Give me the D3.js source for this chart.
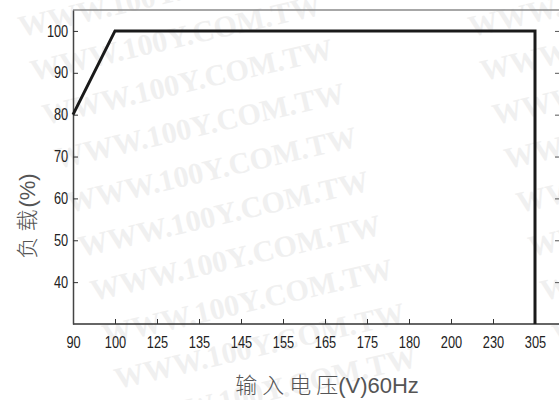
<!DOCTYPE html>
<html>
<head>
<meta charset="utf-8">
<script src="https://cdn.jsdelivr.net/npm/d3@7"></script>
<style>
    body { margin: 0; background: #fff; }
    svg { display: block; }
</style>
</head>
<body>
<div id="derating"></div>
<script>
// input voltage categories (evenly spaced on the axis)
var voltages = ["90", "100", "125", "135", "145", "155", "165", "175", "180", "200", "230", "305"];
// load curve
var curveVoltage = ["90", "100", "305", "305"];
var curveLoad = [80, 100, 100, 30];
var loadTicks = [40, 50, 60, 70, 80, 90, 100];
var watermarkText = "WWW.100Y.COM.TW";

var W = 559, H = 400;
var margin = { top: 10, right: 0, bottom: 76, left: 73 };

var svg = d3.select("#derating")
    .append("svg")
    .attr("width", W)
    .attr("height", H);

// watermark, tiled and tilted
var wm = svg.append("g").attr("class", "watermark");
for (var c = -1; c <= 1; c++) {
    for (var r = -1; r < 9; r++) {
        var wx = 33 + c * 450 + r * 12;
        var wy = 81 + r * 44;
        wm.append("text")
            .attr("transform", "translate(" + wx + "," + wy + ")rotate(-13)")
            .attr("font-family", "Liberation Serif, serif")
            .attr("font-weight", "bold")
            .attr("font-size", 30)
            .attr("fill", "#f0f0f0")
            .text(watermarkText);
    }
}

var x = d3.scalePoint()
    .domain(voltages)
    .range([margin.left, 535]);

var y = d3.scaleLinear()
    .domain([30, 105])
    .range([H - margin.bottom, margin.top]);

var tickFont = "Liberation Sans, Arial, sans-serif";

// frame: top and right edges in light gray
svg.append("line")
    .attr("x1", margin.left).attr("x2", W)
    .attr("y1", y(105)).attr("y2", y(105))
    .attr("stroke", "#8a8a8a").attr("stroke-width", 1.5);

var rightAxis = svg.append("g")
    .attr("transform", "translate(" + (W + 1) + ",0)")
    .call(d3.axisRight(y).tickValues(loadTicks).tickSize(-5).tickFormat(""));
rightAxis.select(".domain").remove();
rightAxis.selectAll("line").attr("stroke", "#555");

// bottom axis
var xAxis = svg.append("g")
    .attr("transform", "translate(0," + y(30) + ")")
    .call(d3.axisBottom(x).tickSize(-5).tickPadding(13).tickSizeOuter(0));
xAxis.select(".domain").remove();
xAxis.selectAll("line").attr("stroke", "#333");
xAxis.selectAll("text")
    .attr("font-family", tickFont)
    .attr("font-size", 16)
    .attr("transform", "scale(0.8,1)")
    .attr("fill", "#222");

svg.append("line")
    .attr("x1", margin.left).attr("x2", W)
    .attr("y1", y(30)).attr("y2", y(30))
    .attr("stroke", "#333").attr("stroke-width", 1.5);

// left axis
var yAxis = svg.append("g")
    .attr("transform", "translate(" + margin.left + ",0)")
    .call(d3.axisLeft(y).tickValues(loadTicks).tickSize(-5).tickPadding(6).tickSizeOuter(0));
yAxis.select(".domain").attr("stroke", "#444").attr("stroke-width", 1.5);
yAxis.selectAll("line").attr("stroke", "#333");
yAxis.selectAll("text")
    .attr("font-family", tickFont)
    .attr("font-size", 16)
    .attr("transform", "scale(0.8,1)")
    .attr("fill", "#222");

// the derating curve
var pts = curveVoltage.map(function(v, i) {
    return [x(v), y(curveLoad[i])];
});
svg.append("path")
    .attr("d", d3.line()(pts))
    .attr("fill", "none")
    .attr("stroke", "#1a1a1a")
    .attr("stroke-width", 3)
    .attr("stroke-linejoin", "miter");

// axis titles
var xt = svg.append("text")
    .attr("x", 327)
    .attr("y", 393)
    .attr("text-anchor", "middle")
    .attr("font-family", "Liberation Sans, Noto Sans CJK SC, sans-serif")
    .attr("font-size", 22)
    .attr("fill", "#555");
xt.append("tspan")
    .attr("font-family", "Noto Sans CJK SC")
    .attr("font-weight", 300)
    .attr("letter-spacing", 5)
    .text("输入电");
xt.append("tspan")
    .attr("font-family", "Noto Sans CJK SC")
    .attr("font-weight", 300)
    .text("压");
xt.append("tspan").text("(V)60Hz");

var yt = svg.append("text")
    .attr("transform", "translate(35,216)rotate(-90)")
    .attr("text-anchor", "middle")
    .attr("font-family", "Liberation Sans, Noto Sans CJK SC, sans-serif")
    .attr("font-size", 22)
    .attr("fill", "#555");
yt.append("tspan")
    .attr("font-family", "Noto Sans CJK SC")
    .attr("font-weight", 300)
    .attr("letter-spacing", 5)
    .text("负");
yt.append("tspan")
    .attr("font-family", "Noto Sans CJK SC")
    .attr("font-weight", 300)
    .attr("letter-spacing", 2)
    .text("载");
yt.append("tspan").text("(%)");
</script>
</body>
</html>
